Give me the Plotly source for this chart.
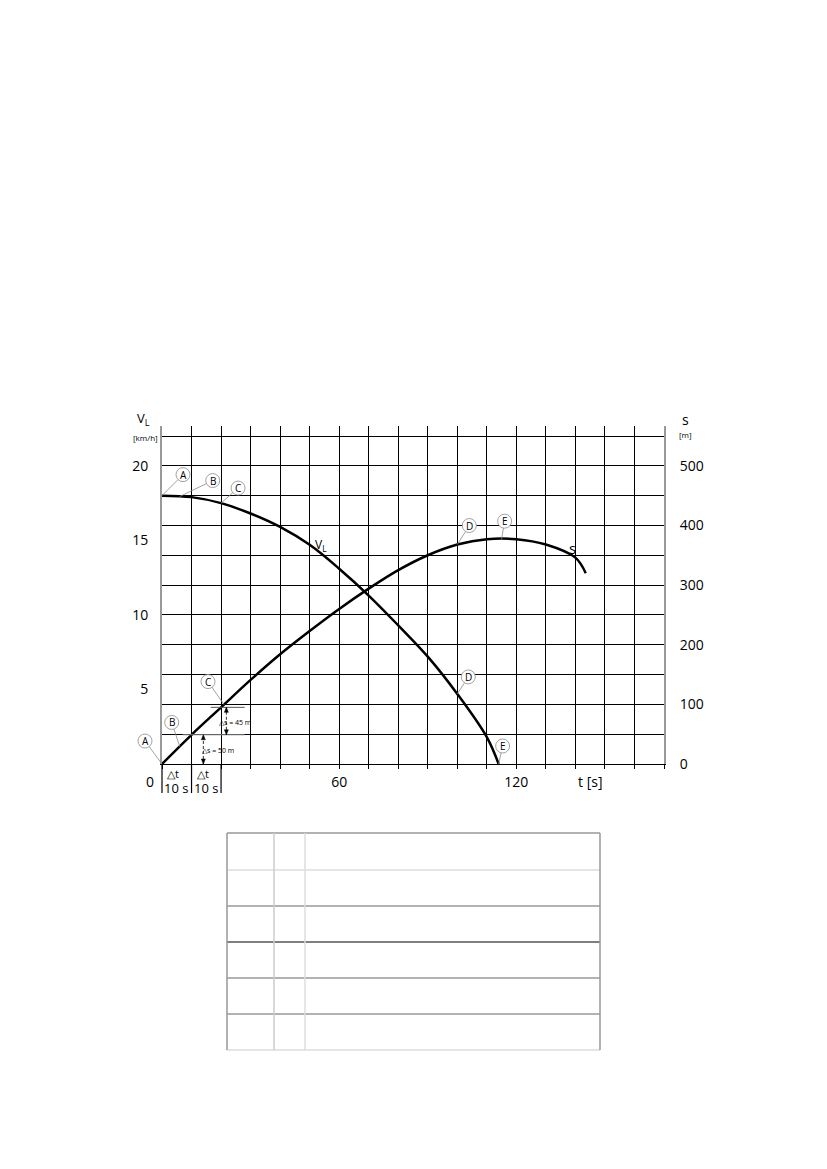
import numpy as np
import plotly.graph_objects as go

# velocity curve v_L [km/h] over time t [s]
t_v = [0, 10, 20, 30, 40, 50, 60, 70, 80, 90, 100, 110, 114]
v_l = [18, 17.9, 17.5, 16.8, 15.9, 14.7, 13.1, 11.3, 9.3, 7.2, 4.7, 1.8, 0]

# distance curve s [m] over time t [s]
t_s = [0, 10, 20, 30, 40, 50, 60, 70, 80, 90, 100, 110, 120, 130, 140, 143.5]
s_m = [0, 49, 95, 141, 184, 223, 260, 294, 325, 350, 368, 377, 377, 368, 346, 320]

v_ticks = [5, 10, 15, 20]
s_ticks = [100, 200, 300, 400, 500]
t_ticks = [60, 120]

# circled point labels: letter, time, pixel offset of the circle
v_marks = [("A", 0, 21, -21), ("B", 6, 33, -16), ("C", 20, 17, -15),
           ("D", 100, 11, -17), ("E", 114, 4, -18)]
s_marks = [("A", 0, -17, -23), ("B", 6, -8, -24), ("C", 21, -16, -23),
           ("D", 100, 12, -19), ("E", 115, 3, -18)]

# page has an 8 px body margin, so the figure starts at (8, 8)
OFF = 8
W, H = 827 - OFF, 1169 - OFF
L, T = 162 - OFF, 426 - OFF
PW, PH = 502, 338
R, B = W - L - PW, H - T - PH
TMAX = 170
VMAX = 22 + 10 / 14.91
SMAX = VMAX * 25
FONT = "Open Sans"


def px(x):
    return (x - 162) / PW


def py(y):
    return (764 - y) / PH


fig = go.Figure()
fig.add_trace(go.Scatter(x=t_v, y=v_l, mode="lines", line=dict(color="black", width=2.5, shape="spline", smoothing=1.0),
                         showlegend=False, hoverinfo="skip"))
fig.add_trace(go.Scatter(x=t_s, y=s_m, mode="lines", yaxis="y2",
                         line=dict(color="black", width=2.5, shape="spline", smoothing=1.0),
                         showlegend=False, hoverinfo="skip"))

shapes = []
annos = []


def label(x, y, s, fs, **kw):
    annos.append(dict(x=x, y=y, xref="paper", yref="paper", text=s, showarrow=False,
                      xanchor="center", yanchor="middle",
                      font=dict(size=fs, family=FONT, color="black"), **kw))


# circled letters with leader lines
r = 7
for marks, tt, vv, vmax in [(v_marks, t_v, v_l, VMAX), (s_marks, t_s, s_m, SMAX)]:
    for letter, t, dx, dy in marks:
        xa = t / TMAX
        ya = float(np.interp(t, tt, vv)) / vmax
        d = (dx ** 2 + dy ** 2) ** 0.5
        k = 1 - r / d
        shapes.append(dict(type="line", xref="paper", yref="paper", xsizemode="pixel", ysizemode="pixel",
                           xanchor=xa, yanchor=ya, x0=0, y0=0, x1=dx * k, y1=-dy * k,
                           line=dict(color="#8a8a8a", width=0.8)))
        shapes.append(dict(type="circle", xref="paper", yref="paper", xsizemode="pixel", ysizemode="pixel",
                           xanchor=xa, yanchor=ya, x0=dx - r, x1=dx + r, y0=-dy - r, y1=-dy + r,
                           line=dict(color="#8a8a8a", width=0.8), fillcolor="white"))
        label(xa, ya, letter, 10, xshift=dx, yshift=-dy)

# delta-s construction
shapes.append(dict(type="line", xref="x", yref="y2", x0=7, x1=28, y0=s_m[1], y1=s_m[1],
                   line=dict(color="#8a8a8a", width=1)))
shapes.append(dict(type="line", xref="x", yref="y2", x0=16.5, x1=28, y0=s_m[2], y1=s_m[2],
                   line=dict(color="#555", width=1)))
for tx, y0, y1 in [(14, s_m[0], s_m[1]), (21.8, s_m[1], s_m[2])]:
    shapes.append(dict(type="line", xref="x", yref="y2", x0=tx, x1=tx, y0=y0, y1=y1,
                       line=dict(color="black", width=0.8, dash="3px,2px")))
    shapes.append(dict(type="path", xref="x", yref="y2", xsizemode="pixel", ysizemode="pixel",
                       xanchor=tx, yanchor=y0, path="M -2,5 L 0,0 L 2,5 Z",
                       fillcolor="black", line=dict(color="black", width=0.5)))
    shapes.append(dict(type="path", xref="x", yref="y2", xsizemode="pixel", ysizemode="pixel",
                       xanchor=tx, yanchor=y1, path="M -2,-5 L 0,0 L 2,-5 Z",
                       fillcolor="black", line=dict(color="black", width=0.5)))

label(px(218), py(750), "△s = 50 m", 7)
label(px(235), py(722), "△s = 45 m", 7)

# delta-t marks below the axis
for t in [0, 10, 20]:
    shapes.append(dict(type="line", xref="paper", yref="paper", x0=t / TMAX, x1=t / TMAX, y0=0, y1=py(793),
                       line=dict(color="black", width=1.2)))
for xc in [173, 203]:
    label(px(xc), py(773), "△t", 11)
    label(px(xc + 3), py(788), "10 s", 13)

# text labels
txt = [
    (143, 419, "V<sub>L</sub>", 13), (145, 437, "[km/h]", 8),
    (685, 420, "s", 14), (685, 434, "[m]", 8),
    (150, 781, "0", 14), (590, 781, "t [s]", 14),
    (321, 545, "V<sub>L</sub>", 12), (572, 548, "s", 15),
]
for x, y, s, fs in txt:
    label(px(x), py(y), s, fs)

# empty table below the chart
tx0, tx1 = 227, 600
rows = [(833, "#999"), (870, "#ddd"), (906, "#999"), (942, "#555"), (978, "#999"), (1014, "#999"), (1050, "#ddd")]
for y, c in rows:
    shapes.append(dict(type="line", xref="paper", yref="paper", x0=px(tx0), x1=px(tx1), y0=py(y), y1=py(y),
                       line=dict(color=c, width=1.5)))
for x, c in [(227, "#999"), (274, "#ccc"), (305, "#ddd"), (600, "#999")]:
    shapes.append(dict(type="line", xref="paper", yref="paper", x0=px(x), x1=px(x), y0=py(833), y1=py(1050),
                       line=dict(color=c, width=1.5)))

fig.update_layout(
    width=W, height=H,
    margin=dict(l=L, r=R, t=T, b=B),
    paper_bgcolor="white", plot_bgcolor="white",
    font=dict(family=FONT, color="black", size=14),
    xaxis=dict(range=[0, TMAX], tickvals=t_ticks, showgrid=True, gridcolor="black", gridwidth=1.3,
               ticks="outside", ticklen=4, tickcolor="black", tickwidth=1.2, zeroline=False,
               showline=True, linecolor="black", linewidth=1.3, ticklabelstandoff=1,
               minor=dict(dtick=10, tick0=0, showgrid=True, gridcolor="black", gridwidth=1.3,
                          ticks="outside", ticklen=4, tickcolor="black", tickwidth=1.2),
               tickfont=dict(size=14)),
    yaxis=dict(range=[0, VMAX], tickvals=v_ticks, showgrid=False, zeroline=False,
               showline=True, linecolor="#999", linewidth=2, ticks="", ticklabelstandoff=9,
               minor=dict(dtick=2, tick0=0, showgrid=True, gridcolor="black", gridwidth=1.3),
               tickfont=dict(size=14)),
    yaxis2=dict(range=[0, SMAX], tickvals=[0] + s_ticks, overlaying="y", side="right", showgrid=False,
                zeroline=False, showline=True, linecolor="#999", linewidth=2, ticks="",
                ticklabelstandoff=11, tickfont=dict(size=14)),
    shapes=shapes,
    annotations=annos,
)

fig.write_html("out.html")
